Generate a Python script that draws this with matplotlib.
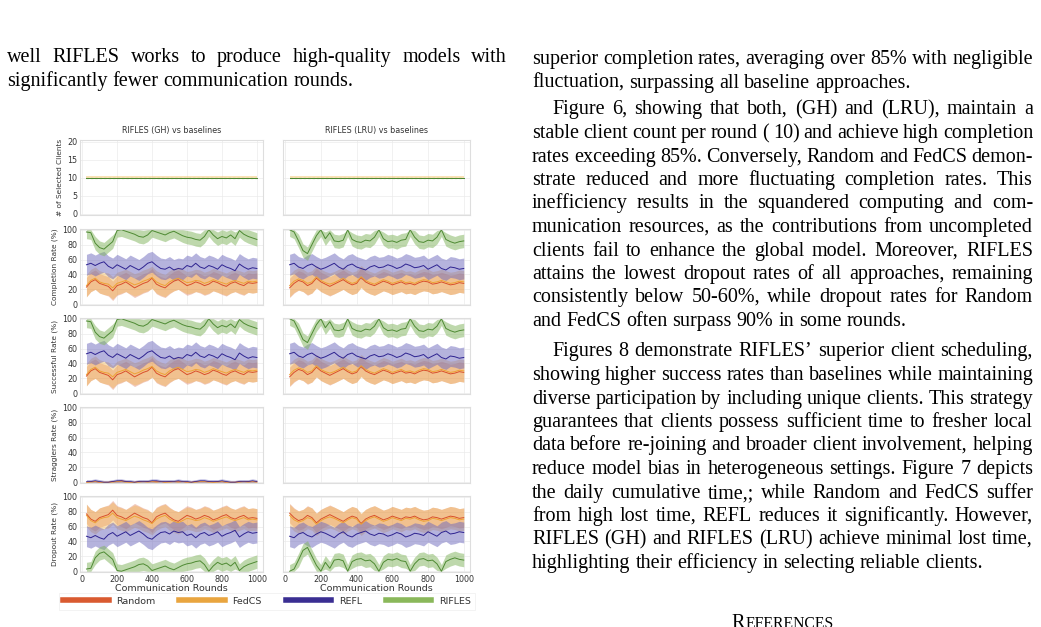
import numpy as np, matplotlib
matplotlib.use("Agg")
import matplotlib.pyplot as plt
from matplotlib.lines import Line2D
from matplotlib.transforms import IdentityTransform

W, H = 1041, 627

# ---------------- data (one point every 25 rounds) ----------------
ROUNDS = list(range(25, 1001, 25))
METHODS = ["Random", "FedCS", "REFL", "RIFLES"]

SELECTED = {"Random": 10, "FedCS": 10, "REFL": 10, "RIFLES": 10}

COMP_GH = {
    "RIFLES": [97, 96, 82, 76, 74, 79, 84, 99, 100, 98,
               96, 94, 91, 90, 93, 99, 97, 95, 93, 96,
               98, 95, 92, 90, 89, 87, 86, 91, 100, 93,
               88, 91, 89, 93, 88, 99, 94, 91, 89, 87],
    "REFL":   [53, 55, 52, 55, 57, 51, 48, 53, 50, 47,
               52, 49, 46, 50, 55, 57, 52, 48, 47, 50,
               46, 48, 47, 52, 50, 55, 50, 48, 52, 50,
               47, 53, 50, 48, 45, 54, 50, 47, 49, 48],
    "Random": [23, 30, 33, 28, 26, 24, 18, 25, 27, 30,
               26, 22, 25, 28, 30, 35, 27, 24, 22, 27,
               31, 33, 29, 25, 27, 30, 28, 25, 27, 31,
               29, 26, 24, 28, 30, 27, 25, 29, 28, 29],
    "FedCS":  [25, 32, 35, 30, 28, 27, 22, 28, 30, 32,
               29, 26, 28, 31, 33, 36, 30, 27, 25, 30,
               33, 35, 32, 29, 30, 32, 31, 28, 30, 33,
               31, 29, 27, 30, 32, 30, 28, 31, 30, 31],
}
COMP_LRU = {
    "RIFLES": [100, 97, 85, 72, 68, 80, 92, 100, 88, 96,
               85, 84, 86, 100, 87, 84, 83, 86, 85, 90,
               100, 88, 84, 85, 83, 86, 87, 100, 90, 84,
               83, 86, 85, 90, 100, 87, 84, 82, 84, 85],
    "REFL":   [53, 55, 50, 48, 52, 54, 50, 47, 49, 52,
               55, 50, 47, 52, 54, 50, 48, 46, 50, 52,
               49, 50, 53, 51, 48, 50, 54, 52, 49, 50,
               52, 47, 50, 53, 48, 46, 50, 49, 47, 48],
    "Random": [22, 28, 32, 30, 25, 28, 35, 30, 27, 24,
               27, 30, 33, 29, 26, 28, 36, 30, 27, 25,
               28, 31, 29, 26, 28, 30, 27, 28, 26, 29,
               31, 30, 27, 28, 30, 28, 26, 27, 29, 28],
    "FedCS":  [25, 31, 34, 32, 28, 30, 37, 32, 29, 27,
               29, 32, 35, 31, 28, 30, 37, 32, 29, 27,
               30, 33, 31, 28, 30, 32, 29, 30, 28, 31,
               33, 32, 29, 30, 32, 30, 28, 29, 31, 30],
}
STRAG_GH = {
    "REFL":   [1, 1, 2, 1, 0, 0, 1, 2, 2, 1, 1, 0, 1, 1, 1, 2, 2, 1, 1, 1,
               1, 2, 1, 1, 0, 1, 2, 2, 1, 1, 1, 2, 1, 0, 0, 1, 1, 1, 2, 1],
    "Random": [0, 1, 1, 0, 0, 0, 1, 1, 2, 1, 0, 0, 1, 1, 1, 1, 1, 1, 0, 1,
               1, 1, 1, 0, 0, 1, 1, 1, 1, 0, 1, 1, 0, 0, 0, 1, 1, 1, 1, 1],
    "FedCS":  [0, 0, 1, 0, 0, 0, 0, 1, 1, 0, 0, 0, 0, 1, 0, 1, 0, 1, 0, 0,
               1, 0, 1, 0, 0, 0, 1, 1, 0, 0, 0, 1, 0, 0, 0, 0, 1, 0, 1, 0],
}
DROP_GH = {
    "RIFLES": [3, 4, 18, 24, 26, 21, 16, 1, 0, 2,
               4, 6, 9, 10, 7, 1, 3, 5, 7, 4,
               2, 5, 8, 10, 11, 13, 14, 9, 0, 7,
               12, 9, 11, 7, 12, 1, 6, 9, 11, 13],
    "REFL":   [47, 45, 48, 45, 43, 49, 52, 47, 50, 53,
               48, 51, 54, 50, 45, 43, 48, 52, 53, 50,
               54, 52, 53, 48, 50, 45, 50, 52, 48, 50,
               53, 47, 50, 52, 55, 46, 50, 53, 51, 52],
    "Random": [77, 70, 67, 72, 74, 76, 82, 75, 73, 70,
               74, 78, 75, 72, 70, 65, 73, 76, 78, 73,
               69, 67, 71, 75, 73, 70, 72, 75, 73, 69,
               71, 74, 76, 72, 70, 73, 75, 71, 72, 71],
    "FedCS":  [75, 68, 65, 70, 72, 73, 78, 72, 70, 68,
               71, 74, 72, 69, 67, 64, 70, 73, 75, 70,
               67, 65, 68, 71, 70, 68, 69, 72, 70, 67,
               69, 71, 73, 70, 68, 70, 72, 69, 70, 69],
}
DROP_LRU = {
    "RIFLES": [0, 3, 15, 28, 32, 20, 8, 0, 12, 4,
               15, 16, 14, 0, 13, 16, 17, 14, 15, 10,
               0, 12, 16, 15, 17, 14, 13, 0, 10, 16,
               17, 14, 15, 10, 0, 13, 16, 18, 16, 15],
    "REFL":   [47, 45, 50, 52, 48, 46, 50, 53, 51, 48,
               45, 50, 53, 48, 46, 50, 52, 54, 50, 48,
               51, 50, 47, 49, 52, 50, 46, 48, 51, 50,
               48, 53, 50, 47, 52, 54, 50, 51, 53, 52],
    "Random": [78, 72, 68, 70, 75, 72, 65, 70, 73, 76,
               73, 70, 67, 71, 74, 72, 64, 70, 73, 75,
               72, 69, 71, 74, 72, 70, 73, 72, 74, 71,
               69, 70, 73, 72, 70, 72, 74, 73, 71, 72],
    "FedCS":  [75, 69, 66, 68, 72, 70, 63, 68, 71, 73,
               71, 68, 65, 69, 72, 70, 63, 68, 71, 73,
               70, 67, 69, 72, 70, 68, 71, 70, 72, 69,
               67, 68, 71, 70, 68, 70, 72, 71, 69, 70],
}
BAND = {"Random": 13, "FedCS": 15, "REFL": 14, "RIFLES": 9}
SEL_BAND = {"Random": 0.1, "FedCS": 0.45, "REFL": 0.1, "RIFLES": 0.1}
STRAG_BAND = {"Random": 1.5, "FedCS": 1.5, "REFL": 2.5}

LINE_C = {"Random": "#d9502a", "FedCS": "#eea236", "REFL": "#2d2290", "RIFLES": "#4e8a33"}
FILL_C = {"Random": "#d8674a", "FedCS": "#f1b447", "REFL": "#6d68bd", "RIFLES": "#7fb35a"}
FILL_A = {"Random": 0.35, "FedCS": 0.4, "REFL": 0.5, "RIFLES": 0.5}
LEG_C = {"Random": "#d95a30", "FedCS": "#e9a53f", "REFL": "#3a2e92", "RIFLES": "#8ab85a"}

TITLES = ["RIFLES (GH) vs baselines", "RIFLES (LRU) vs baselines"]
YLABELS = ["# of Selected Clients", "Completion Rate (%)", "Successful Rate (%)",
           "Stragglers Rate (%)", "Dropout Rate (%)"]

LEFT_TEXT = [["well RIFLES works to produce high-quality models with",
              "significantly fewer communication rounds."]]
RIGHT_TEXT1 = [["superior completion rates, averaging over 85% with negligible",
                "fluctuation, surpassing all baseline approaches."],
               ["Figure 6, showing that both, (GH) and (LRU), maintain a",
                "stable client count per round ( 10) and achieve high completion",
                "rates exceeding 85%. Conversely, Random and FedCS demon-",
                "strate reduced and more fluctuating completion rates. This",
                "inefficiency results in the squandered computing and com-",
                "munication resources, as the contributions from uncompleted",
                "clients fail to enhance the global model. Moreover, RIFLES",
                "attains the lowest dropout rates of all approaches, remaining",
                "consistently below 50-60%, while dropout rates for Random",
                "and FedCS often surpass 90% in some rounds."]]
RIGHT_TEXT2 = [["Figures 8 demonstrate RIFLES\u2019 superior client scheduling,",
                "showing higher success rates than baselines while maintaining",
                "diverse participation by including unique clients. This strategy",
                "guarantees that clients possess sufficient time to fresher local",
                "data before re-joining and broader client involvement, helping",
                "reduce model bias in heterogeneous settings. Figure 7 depicts",
                "the daily cumulative time,; while Random and FedCS suffer",
                "from high lost time, REFL reduces it significantly. However,",
                "RIFLES (GH) and RIFLES (LRU) achieve minimal lost time,",
                "highlighting their efficiency in selecting reliable clients."]]

# ---------------- figure ----------------
fig = plt.figure(figsize=(W / 100, H / 100), dpi=100)
fig.patch.set_facecolor("white")

def ax_at(x0, y0, x1, y1):
    return fig.add_axes([x0 / W, 1 - y1 / H, (x1 - x0) / W, (y1 - y0) / H])

COLX = [(80, 263), (283, 470)]
ROWY = [(140, 215), (229, 305), (318, 394), (407, 483), (496, 572)]
x = np.array(ROUNDS, float)

def style(ax):
    for s in ax.spines.values():
        s.set_color("#dedede"); s.set_linewidth(0.8)
    ax.grid(True, color="#ebebeb", lw=0.5)
    ax.set_axisbelow(True)
    ax.tick_params(length=0, labelsize=5.8, colors="#333333", pad=2)
    ax.set_xlim(-12, 1035)
    ax.set_xticks([0, 200, 400, 600, 800, 1000])

def draw(ax, m, hw, name, lo=0, hi=100, lw=0.7):
    m = np.asarray(m, float)
    ax.fill_between(x, np.clip(m - hw, lo, hi), np.clip(m + hw, lo, hi),
                    color=FILL_C[name], alpha=FILL_A[name], lw=0)
    ax.plot(x, m, color=LINE_C[name], lw=lw)

for c in range(2):
    comp = COMP_GH if c == 0 else COMP_LRU
    drop = DROP_GH if c == 0 else DROP_LRU
    for r in range(5):
        ax = ax_at(COLX[c][0], ROWY[r][0], COLX[c][1], ROWY[r][1])
        style(ax)
        if r == 0:
            ax.set_ylim(-0.3, 20.5); ax.set_yticks([0, 5, 10, 15, 20])
            ax.set_title(TITLES[c], fontsize=5.8, color="#333333", pad=5)
            for n in METHODS:
                draw(ax, np.full(len(x), SELECTED[n]), SEL_BAND[n], n, 0, 20)
            ax.plot(x, np.full(len(x), SELECTED["RIFLES"]), color=LINE_C["RIFLES"],
                    lw=0.8, ls=(0, (2, 2)))
        else:
            ax.set_ylim(-1, 101); ax.set_yticks([0, 20, 40, 60, 80, 100])
            if r in (1, 2):
                for n in METHODS:
                    draw(ax, comp[n], BAND[n], n)
            elif r == 3 and c == 0:
                for n in ["Random", "FedCS", "REFL"]:
                    draw(ax, STRAG_GH[n], STRAG_BAND[n], n, lw=0.5)
            elif r == 4:
                for n in METHODS:
                    draw(ax, drop[n], BAND[n], n)
        if c == 0:
            ax.set_ylabel(YLABELS[r], fontsize=5.3, color="#333333", labelpad=3)
        else:
            ax.set_yticklabels([])
        if r == 4:
            ax.set_xlabel("Communication Rounds", fontsize=6.8, color="#333333", labelpad=0)
        else:
            ax.set_xticklabels([])

handles = [Line2D([], [], color=LEG_C[n], lw=4) for n in METHODS]
leg = fig.legend(handles, METHODS, loc="lower left", mode="expand",
                 bbox_to_anchor=(59 / W, 1 - 610 / H, 416 / W, 18 / H),
                 ncol=4, fontsize=6.8, frameon=True, handlelength=4.8, columnspacing=2.0,
                 borderpad=0.45, handletextpad=0.8, borderaxespad=0)
leg.get_frame().set_edgecolor("#eeeeee"); leg.get_frame().set_linewidth(0.6)
leg.get_frame().set_boxstyle("square", pad=0)
for t in leg.get_texts():
    t.set_color("#333333")

# ---------------- page text (justified two-column layout) ----------------
SERIF = "Liberation Serif"; FS = 14.5
rend = fig.canvas.get_renderer()

def wwidth(s, fs=FS):
    t = fig.text(0, 0, s, fontsize=fs, family=SERIF)
    w = t.get_window_extent(rend).width
    t.remove()
    return w

def put_line(s, x0, x1, yc, just):
    words = s.split(" ")
    ws = [wwidth(w) for w in words]
    sp = FS * 100 / 72 * 0.25
    if just and len(words) > 1:
        sp = (x1 - x0 - sum(ws)) / (len(words) - 1)
    xx = x0
    for w, wd in zip(words, ws):
        fig.text(xx, H - round(yc + 6.5), w, fontsize=FS, family=SERIF, color="black",
                 transform=IdentityTransform(), va="baseline")
        xx += wd + sp

def put_par(par, x0, x1, y0, indent, step=23.5):
    y = y0
    for i, s in enumerate(par):
        put_line(s, x0 + (20 if (i == 0 and indent) else 0), x1, y, i < len(par) - 1)
        y += step
    return y

put_par(LEFT_TEXT[0], 7, 507, 56, False)
put_par(RIGHT_TEXT1[0], 532, 1033, 57.5, False)
put_par(RIGHT_TEXT1[1], 532, 1033, 108, True)
put_par(RIGHT_TEXT2[0], 532, 1033, 350, True)

# section heading (small caps, cut by the page edge like in the screenshot)
sc = FS * 0.78
wr = wwidth("R"); we = wwidth("EFERENCES", sc)
hx = 782.5 - (wr + we) / 2
fig.text(hx, H - 628, "R", fontsize=FS, family=SERIF, transform=IdentityTransform(),
         va="baseline")
fig.text(hx + wr, H - 628, "EFERENCES", fontsize=sc, family=SERIF,
         transform=IdentityTransform(), va="baseline")

fig.savefig("out.png", dpi=100, facecolor="white")
